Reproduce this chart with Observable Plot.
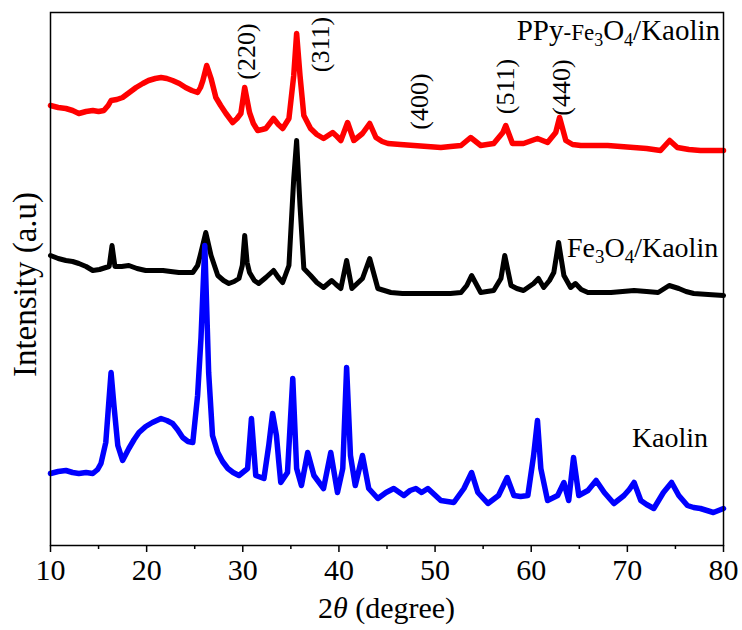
<!DOCTYPE html>
<html>
<head>
<meta charset="utf-8">
<script src="https://cdn.jsdelivr.net/npm/d3@7"></script>
<script src="https://cdn.jsdelivr.net/npm/@observablehq/plot@0.6"></script>
<style>
  html, body { margin: 0; padding: 0; background: #fff; }
  #chart { width: 742px; height: 630px; }
</style>
</head>
<body>
<div id="chart"></div>
<script>
// ---- Data (intensity in arbitrary units, curves offset) ----
const ppyX = [10.0,10.8,11.6,12.3,12.95,13.7,14.4,15.0,15.55,16.0,16.3,16.9,17.5,18.2,18.9,19.6,20.2,20.9,21.5,22.1,22.7,23.4,24.05,24.7,25.3,25.6,25.85,26.25,26.7,27.2,27.7,28.25,28.95,29.4,29.8,30.2,30.7,31.1,31.55,32.0,32.4,33.2,33.7,34.15,34.8,35.3,35.6,35.95,36.35,37.05,37.7,38.4,39.35,39.8,40.2,40.9,41.55,42.45,43.2,43.85,44.5,45.1,46.4,47.8,49.2,50.6,51.6,52.7,53.7,54.75,55.4,56.1,57.05,57.35,58.05,59.2,60.65,61.7,62.55,62.95,63.6,64.3,65.15,66.5,67.95,69.3,70.65,72.0,73.45,74.4,75.2,76.4,77.6,78.8,80.0];
const ppyY = [440,438,437,435,432,434,435,434,435,440,445,446,448,453,458,462,465,467,468,467,465,462,458,455,453,458,465,480,467,448,440,432,423,427,432,458,433,422,415,416,417,427,421,417,427,470,512,470,430,417,411,407,413,409,405,423,405,412,422,408,404,402,401,400,399,398,399,400,408,400,401,402,413,420,402,402,407,403,413,428,405,401,400,400,400,399,398,397,395,405,398,396,395,395,395];

const feX = [10.0,10.8,11.6,12.3,12.95,13.7,14.4,15.1,15.75,16.1,16.4,16.7,17.4,18.15,19.0,19.9,20.8,21.7,22.5,23.35,24.1,24.8,25.3,25.65,26.15,26.7,27.4,28.0,28.55,29.1,29.6,29.95,30.2,30.45,30.7,31.2,31.65,32.4,33.2,33.7,34.15,34.8,35.3,35.6,35.95,36.35,37.05,37.7,38.4,39.25,39.7,40.2,40.8,41.35,41.9,42.45,43.2,44.05,45.4,46.6,47.8,49.2,50.6,51.6,52.7,53.3,53.8,54.75,55.4,56.1,56.85,57.25,57.9,58.5,59.2,60.25,60.75,61.3,61.9,62.35,62.85,63.4,64.1,64.6,65.2,65.9,67.1,68.3,69.5,70.7,72.0,73.2,74.35,75.35,76.1,76.9,78.4,80.0];
const feY = [290,287,285,284,282,279,275,276,278,279,300,279,279,280,277,275,275,275,274,273,273,273,280,293,313,290,270,265,262,264,267,280,310,283,273,265,262,268,275,268,263,280,367,405,340,277,270,263,258,265,261,257,285,257,262,267,287,257,253,252,252,252,252,252,253,260,270,253,254,255,267,290,260,257,255,262,267,258,265,273,303,270,258,262,256,253,253,253,254,255,254,253,260,257,254,252,251,250];

const kaoX = [10.0,10.8,11.6,12.3,12.95,13.7,14.4,14.9,15.25,15.75,16.0,16.3,16.6,17.0,17.5,18.15,18.7,19.2,19.9,20.6,21.5,22.1,22.7,23.2,23.75,24.3,24.8,25.3,25.65,26.05,26.45,26.85,27.4,27.9,28.45,29.0,29.6,30.5,30.9,31.35,32.2,32.7,33.1,33.5,33.75,33.95,34.65,35.2,35.6,36.1,36.75,37.4,38.4,39.15,39.85,40.4,40.8,41.2,41.7,42.45,43.1,44.05,44.9,45.7,46.75,47.4,48.0,48.6,49.25,50.6,51.95,53.0,53.8,54.45,55.5,56.6,57.5,58.2,58.9,59.65,60.25,60.65,61.0,61.7,62.75,63.4,63.9,64.4,64.95,65.9,66.75,67.6,68.6,69.65,70.2,70.7,71.4,72.0,72.75,73.75,74.6,75.35,76.25,76.9,77.6,78.95,80.0];
const kaoY = [72,74,75,73,72,73,72,76,82,103,135,173,140,100,85,97,106,113,119,123,127,125,122,116,108,104,103,150,207,300,173,110,93,84,77,73,70,77,127,70,67,100,132,110,83,63,73,167,77,60,93,70,57,93,53,77,178,90,60,90,57,47,53,57,50,55,57,53,57,45,43,57,73,53,42,50,68,50,49,50,90,125,77,45,50,63,45,88,50,55,65,53,42,50,56,63,45,41,37,53,63,50,40,38,37,33,37];

const majorTicks = [10,20,30,40,50,60,70,80];
const minorTicks = [15,25,35,45,55,65,75];
const hklLabels = ["(220)","(311)","(400)","(511)","(440)"];

const toRows = (xs, ys) => xs.map((x, i) => ({x, y: ys[i]}));
const ppy = toRows(ppyX, ppyY);
const fe = toRows(feX, feY);
const kao = toRows(kaoX, kaoY);

// label anchor positions in data space (2θ, intensity)
const hklPos = [[30.43,494],[38.12,501],[48.36,444],[57.35,459],[63.12,458]];
const hklRows = hklLabels.map((t, i) => ({t, x: hklPos[i][0], y: hklPos[i][1]}));

const font = "'Liberation Serif', 'Times New Roman', serif";

const plot = Plot.plot({
  width: 742,
  height: 630,
  marginLeft: 50,
  marginRight: 19,
  marginTop: 12,
  marginBottom: 85,
  style: {fontFamily: font, background: "#fff", color: "#000"},
  x: {domain: [10, 80]},
  y: {domain: [0, 533], axis: null},
  marks: [
    Plot.line(ppy, {x: "x", y: "y", stroke: "#ff0000", strokeWidth: 5.5, strokeLinejoin: "round"}),
    Plot.line(fe, {x: "x", y: "y", stroke: "#000000", strokeWidth: 5, strokeLinejoin: "round"}),
    Plot.line(kao, {x: "x", y: "y", stroke: "#0000ff", strokeWidth: 5.5, strokeLinejoin: "round"}),
    Plot.frame({stroke: "#000", strokeWidth: 1.5}),
    Plot.axisX({ticks: majorTicks, tickSize: 7, tickPadding: 6, fontSize: 30, label: null, strokeWidth: 1.5, tickFormat: d => String(d)}),
    Plot.axisX({ticks: minorTicks, tickSize: 4, text: null, label: null, strokeWidth: 1.5}),
    Plot.text(hklRows, {x: "x", y: "y", text: "t", rotate: -90, fontSize: 26, textAnchor: "middle", lineAnchor: "middle", fill: "#000"})
  ]
});

document.getElementById("chart").appendChild(plot);

const svg = d3.select(plot);
const sx = plot.scale("x"), sy = plot.scale("y");

// Axis titles
const xt = svg.append("text")
  .attr("x", (sx.apply(10) + sx.apply(80)) / 2)
  .attr("y", 618)
  .attr("text-anchor", "middle")
  .attr("font-family", font)
  .attr("font-size", 30)
  .attr("fill", "#000");
xt.append("tspan").text("2");
xt.append("tspan").attr("font-style", "italic").text("θ");
xt.append("tspan").text(" (degree)");

svg.append("text")
  .attr("transform", `translate(36,${(sy.apply(0) + sy.apply(533)) / 2 + 6}) rotate(-90)`)
  .attr("text-anchor", "middle")
  .attr("font-family", font)
  .attr("font-size", 33)
  .attr("fill", "#000")
  .text("Intensity (a.u)");

// Series labels with subscripts
function label(parts, x, y, anchor) {
  const t = svg.append("text")
    .attr("x", sx.apply(x)).attr("y", sy.apply(y))
    .attr("text-anchor", anchor)
    .attr("font-family", font)
    .attr("fill", "#000");
  for (const [txt, size, shift] of parts) {
    const ts = t.append("tspan").attr("font-size", size).text(txt);
    if (shift) ts.attr("dy", shift);
  }
  return t;
}
label([["PPy",29,0],["-Fe",23,0],["3",18,6],["O",29,-6],["4",18,6],["/Kaolin",29,-6]], 79.7, 505, "end");
label([["Fe",28,0],["3",19,6],["O",28,-6],["4",19,6],["/Kaolin",28,-6]], 79.5, 288, "end");
label([["Kaolin",28,0]], 78.45, 98, "end");
</script>
</body>
</html>
